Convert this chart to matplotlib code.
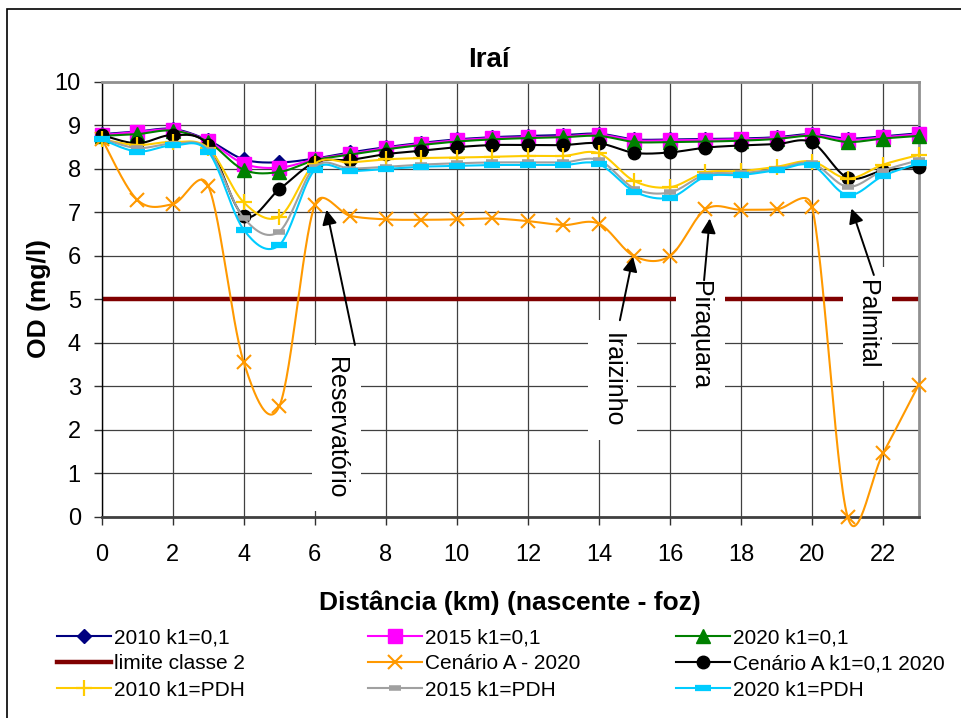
import numpy as np
import matplotlib
matplotlib.use("Agg")
import matplotlib.pyplot as plt
from matplotlib.lines import Line2D
from matplotlib.patches import Rectangle

plt.rcParams['font.family'] = ['Liberation Sans', 'DejaVu Sans']

# distance along the river (km), source -> mouth
distancia = list(range(24))

od_2010_k01 = [8.80, 8.86, 8.92, 8.66, 8.22, 8.15, 8.24, 8.38, 8.50, 8.60, 8.68, 8.73,
               8.76, 8.78, 8.81, 8.68, 8.68, 8.69, 8.70, 8.73, 8.80, 8.70, 8.75, 8.82]
od_2015_k01 = [8.78, 8.85, 8.90, 8.64, 8.12, 8.03, 8.22, 8.35, 8.48, 8.58, 8.66, 8.71,
               8.73, 8.75, 8.79, 8.66, 8.66, 8.67, 8.68, 8.71, 8.78, 8.67, 8.73, 8.80]
od_2020_k01 = [8.76, 8.80, 8.88, 8.62, 7.98, 7.93, 8.20, 8.33, 8.45, 8.55, 8.63, 8.68,
               8.71, 8.73, 8.76, 8.62, 8.62, 8.63, 8.65, 8.69, 8.76, 8.62, 8.70, 8.76]
limite_classe2 = [5.0] * 24
cenario_a_2020 = [8.70, 7.29, 7.19, 7.61, 3.55, 2.54, 7.17, 6.92, 6.84, 6.83, 6.84, 6.86,
                  6.80, 6.71, 6.74, 5.99, 6.00, 7.07, 7.06, 7.07, 7.13, 0.00, 1.46, 3.03]
cenario_a_k01 = [8.78, 8.59, 8.78, 8.55, 6.92, 7.53, 8.15, 8.21, 8.34, 8.42, 8.50, 8.55,
                 8.55, 8.55, 8.59, 8.37, 8.38, 8.49, 8.54, 8.57, 8.61, 7.80, 7.96, 8.05]
od_2010_pdh = [8.68, 8.55, 8.62, 8.48, 7.23, 6.90, 8.12, 8.15, 8.22, 8.25, 8.26, 8.28,
               8.30, 8.30, 8.36, 7.72, 7.58, 7.92, 7.95, 8.05, 8.17, 7.78, 8.10, 8.32]
od_2015_pdh = [8.70, 8.48, 8.58, 8.44, 6.87, 6.56, 8.05, 8.01, 8.05, 8.10, 8.13, 8.15,
               8.15, 8.15, 8.20, 7.55, 7.46, 7.87, 7.90, 8.00, 8.13, 7.59, 7.96, 8.20]
od_2020_pdh = [8.68, 8.40, 8.54, 8.40, 6.60, 6.25, 7.98, 7.95, 8.00, 8.05, 8.07, 8.09,
               8.09, 8.09, 8.11, 7.48, 7.34, 7.82, 7.86, 7.97, 8.08, 7.40, 7.84, 8.13]

x_ticks = list(range(0, 24, 2))
y_ticks = list(range(0, 11))


def smooth(xs, ys, n=30, arm_limit=0.5):
    """Bezier smoothing through every point (spreadsheet-style smoothed line).
    Control arms are capped relative to the segment length to limit overshoot."""
    P = np.column_stack([xs, ys]).astype(float)
    out = []
    for i in range(len(P) - 1):
        p0 = P[i - 1] if i > 0 else P[i]
        p1, p2 = P[i], P[i + 1]
        p3 = P[i + 2] if i + 2 < len(P) else P[i + 1]
        seg_len = np.hypot(*(p2 - p1))
        a1 = (p2 - p0) / 6.0
        a2 = (p3 - p1) / 6.0
        for a in (a1, a2):
            L = np.hypot(*a)
            if L > arm_limit * seg_len and L > 0:
                a *= arm_limit * seg_len / L
        c1 = p1 + a1
        c2 = p2 - a2
        t = np.linspace(0, 1, n, endpoint=(i == len(P) - 2))[:, None]
        seg = (1 - t) ** 3 * p1 + 3 * (1 - t) ** 2 * t * c1 + 3 * (1 - t) * t ** 2 * c2 + t ** 3 * p2
        out.append(seg)
    return np.vstack(out)


fig = plt.figure(figsize=(9.62, 7.18), dpi=100)
ax = fig.add_axes([101.7 / 962, 1 - 516.7 / 718, (918.6 - 101.7) / 962, (516.7 - 82) / 718])

series = [
    ("2010 k1=0,1", od_2010_k01, dict(color="#000080", marker="D", ms=7, mec="#000080", mfc="#000080", mew=1)),
    ("2015 k1=0,1", od_2015_k01, dict(color="#FF00FF", marker="s", ms=10, mec="#FF00FF", mfc="#FF00FF", mew=1)),
    ("2020 k1=0,1", od_2020_k01, dict(color="#008000", marker="^", ms=10, mec="#008000", mfc="#008000", mew=1)),
    ("limite classe 2", limite_classe2, dict(color="#800000", marker=None, lw=3.2)),
    ("Cenário A - 2020", cenario_a_2020, dict(color="#FF9900", marker="x", ms=10, mec="#FF9900", mew=1.5)),
    ("Cenário A k1=0,1 2020", cenario_a_k01, dict(color="#000000", marker="o", ms=9, mec="#000000", mfc="#000000", mew=1)),
    ("2010 k1=PDH", od_2010_pdh, dict(color="#FFCC00", marker="+", ms=12, mec="#FFCC00", mew=1.6)),
    ("2015 k1=PDH", od_2015_pdh, dict(color="#A0A0A0", marker="_", ms=9, mec="#A0A0A0", mew=4)),
    ("2020 k1=PDH", od_2020_pdh, dict(color="#00CCFF", marker="_", ms=11, mec="#00CCFF", mew=4.5)),
]

handles = {}
z = 5
for label, vals, st in series:
    lw = st.get("lw", 1.5)
    if st["marker"] is None:
        ax.plot(distancia, vals, color=st["color"], lw=lw, zorder=2.5, solid_capstyle="butt")
        handles[label] = Line2D([], [], color=st["color"], lw=lw)
        continue
    curve = smooth(distancia, vals)
    ax.plot(curve[:, 0], curve[:, 1], color=st["color"], lw=lw, zorder=z, clip_on=False)
    mkw = {k: v for k, v in st.items() if k not in ("color", "lw")}
    ax.plot(distancia, vals, linestyle="none", zorder=z + 0.5, clip_on=False, **mkw)
    handles[label] = Line2D([], [], color=st["color"], lw=lw, **mkw)
    z += 1

ax.set_xlim(0, 23)
ax.set_ylim(0, 10)
ax.set_xticks(x_ticks)
ax.set_yticks(y_ticks)
ax.grid(True, color="#404040", lw=0.9)
ax.set_axisbelow(True)
ax.tick_params(axis="both", direction="out", length=6, width=1, color="#303030", labelsize=17)
ax.tick_params(axis="x", pad=14)
ax.tick_params(axis="y", pad=9)
for s in ("top", "right"):
    ax.spines[s].set_color("#909090")
    ax.spines[s].set_linewidth(2)
ax.spines["left"].set_color("#000000")
ax.spines["left"].set_linewidth(1)
ax.spines["bottom"].set_color("#404040")
ax.spines["bottom"].set_linewidth(2)

fig.text(489 / 962, 1 - 60 / 718, "Iraí", ha="center", va="center", fontsize=20, fontweight="bold")
fig.text(510 / 962, 1 - 603 / 718, "Distância (km) (nascente - foz)", ha="center", va="center",
         fontsize=19, fontweight="bold")
fig.text(39 / 962, 1 - 299 / 718, "OD (mg/l)", ha="center", va="center", rotation=90,
         fontsize=19, fontweight="bold")

# tributary / reservoir annotations
labels_rio = [
    ("Reservatório", 6.6, 2.04, (7.13, 3.95), (6.33, 7.06)),
    ("Iraizinho", 14.39, 3.14, (14.59, 4.52), (14.96, 5.98)),
    ("Piraquara", 16.85, 4.18, (16.96, 5.44), (17.12, 6.86)),
    ("Palmital", 21.55, 4.43, (21.74, 5.56), (21.11, 7.09)),
]
for txt, tx, ty, tail, tip in labels_rio:
    ax.text(tx, ty, txt, rotation=270, ha="center", va="center", fontsize=18, zorder=4,
            bbox=dict(boxstyle="square,pad=0.5", fc="white", ec="none"))
    ax.annotate("", xy=tip, xytext=tail, zorder=20,
                arrowprops=dict(arrowstyle="-|>", color="black", lw=1.4, mutation_scale=22,
                                shrinkA=0, shrinkB=0))

# legend: three columns laid out row by row
cols = [["2010 k1=0,1", "limite classe 2", "2010 k1=PDH"],
        ["2015 k1=0,1", "Cenário A - 2020", "2015 k1=PDH"],
        ["2020 k1=0,1", "Cenário A k1=0,1 2020", "2020 k1=PDH"]]
col_x = [57, 368, 676]
for cx, names in zip(col_x, cols):
    leg = fig.legend([handles[n] for n in names], names, loc="upper left",
                     bbox_to_anchor=(cx / 962, 1 - 628 / 718), frameon=False, fontsize=15,
                     handlelength=2.6, handletextpad=0.15, labelspacing=0.35,
                     borderpad=0, borderaxespad=0, numpoints=1)

fig.patches.append(Rectangle((7 / 962, -0.1), 1.0, 1 - 9 / 718 + 0.1, transform=fig.transFigure,
                             fill=False, ec="black", lw=1.2))

fig.savefig("out.png", dpi=100)
